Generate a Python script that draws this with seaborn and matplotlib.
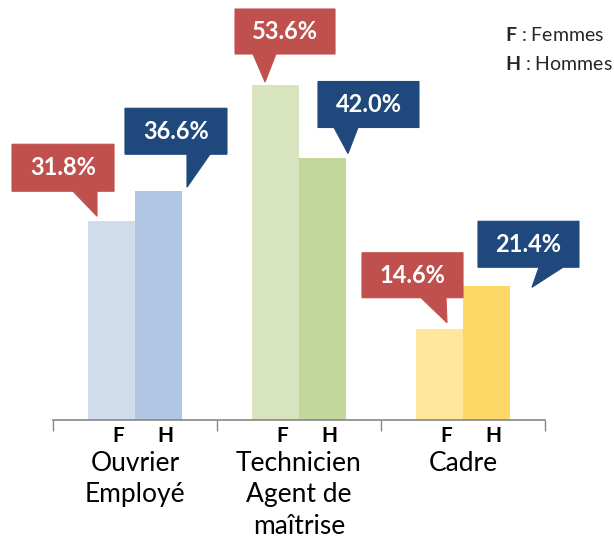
import matplotlib
matplotlib.use("Agg")
import matplotlib.pyplot as plt
import matplotlib.transforms as mtransforms
from matplotlib.patches import Polygon
import pandas as pd
import seaborn as sns

# données (%)
categories = ["Ouvrier\nEmployé", "Technicien\nAgent de\nmaîtrise", "Cadre"]
sexes = ["F", "H"]
femmes = [31.8, 53.6, 14.6]
hommes = [36.6, 42.0, 21.4]

# couleurs des barres (F, H) par catégorie
bar_colors = [("#d0dcec", "#b1c6e2"), ("#d8e4bd", "#c4d79b"), ("#fee69b", "#fed867")]
red, blue = "#c0504d", "#1f497d"

# bulles: ancrage, pointe (px), boite (x0, x1, y0, y1) et base de la pointe, en px depuis la pointe
bubbles = [
    [("left", (9, -5), (-85, 17, -72, -25), (-24, 0)),
     ("right", (5, -4), (-62, 40, -79, -33), (0, 23))],
    [("left", (13, -3), (-30, 70, -73, -28), (-12, 11)),
     ("right", (2, -4), (-30, 71, -72, -26), (-14, 10))],
    [("left", (31, -6), (-85, 16, -70, -25), (-26, -1)),
     ("right", (22, 1), (-54, 47, -66, -20), (7, 31))],
]

df = pd.DataFrame({
    "categorie": categories * 2,
    "sexe": ["F"] * 3 + ["H"] * 3,
    "valeur": femmes + hommes,
})

sns.set_style("white")
plt.rcParams["font.family"] = ["Lato", "DejaVu Sans"]
plt.rcParams["mathtext.fontset"] = "custom"
plt.rcParams["mathtext.rm"] = "Lato"
plt.rcParams["mathtext.bf"] = "Lato:bold"

DPI = 100
fig = plt.figure(figsize=(6.14, 5.38), dpi=DPI)
ax = fig.add_axes([53 / 614, 118 / 538, 492 / 614, 420 / 538])

sns.barplot(data=df, x="categorie", y="valeur", hue="sexe", order=categories,
            hue_order=sexes, width=0.573, saturation=1, legend=False, ax=ax)

ax.set_xlim(-0.5, 2.5)
ax.set_ylim(0, 67.2)
ax.set_xlabel("")
ax.set_ylabel("")
ax.set_yticks([])
ax.set_xticks([-0.5, 0.5, 1.5, 2.5])
ax.set_xticklabels([])
ax.tick_params(axis="x", direction="out", length=8, width=1, color="#868686", bottom=True)
for side in ["left", "right", "top"]:
    ax.spines[side].set_visible(False)
ax.spines["bottom"].set_color("#868686")
ax.spines["bottom"].set_linewidth(1.2)

px = mtransforms.Affine2D().scale(1 / DPI, -1 / DPI) + fig.dpi_scale_trans

for s, cont in enumerate(ax.containers):
    for i, bar in enumerate(cont):
        bar.set_facecolor(bar_colors[i][s])
        bar.set_edgecolor("none")
        anchor, tip, box, base = bubbles[i][s]
        xa = bar.get_x() if anchor == "left" else bar.get_x() + bar.get_width()
        trans = px + mtransforms.ScaledTranslation(xa, bar.get_height(), ax.transData)
        tx, ty = tip
        x0, x1, y0, y1 = box
        b0, b1 = base
        pts = [(x0, y0), (x1, y0), (x1, y1), (b1, y1), (0, 0), (b0, y1), (x0, y1)]
        pts = [(tx + a, ty + b) for a, b in pts]
        col = red if s == 0 else blue
        ax.add_patch(Polygon(pts, closed=True, facecolor=col, edgecolor=col,
                             linewidth=0.8, transform=trans, clip_on=False, zorder=5))
        ax.text(tx + (x0 + x1) / 2, ty + (y0 + y1) / 2, f"{bar.get_height():.1f}%",
                transform=trans, ha="center", va="center", color="white",
                fontsize=17, fontweight="bold", zorder=6)

        # F / H sous chaque barre
        ax.text(bar.get_x() + bar.get_width() / 2, 0, sexes[s],
                transform=mtransforms.offset_copy(ax.transData, fig, x=7, y=-16, units="dots"),
                ha="center", va="center", fontsize=15, fontweight="bold", color="black")

for i, cat in enumerate(categories):
    ax.text(i, 0, cat, transform=mtransforms.offset_copy(ax.transData, fig, x=0, y=-31, units="dots"),
            ha="center", va="top", fontsize=19, linespacing=1.32, color="black")

fig.text(505 / 614, 1 - 35 / 538, r"$\bf{F}$ : Femmes", ha="left", va="center", fontsize=14)
fig.text(505 / 614, 1 - 64 / 538, r"$\bf{H}$ : Hommes", ha="left", va="center", fontsize=14)

fig.savefig("out.png", dpi=DPI)
